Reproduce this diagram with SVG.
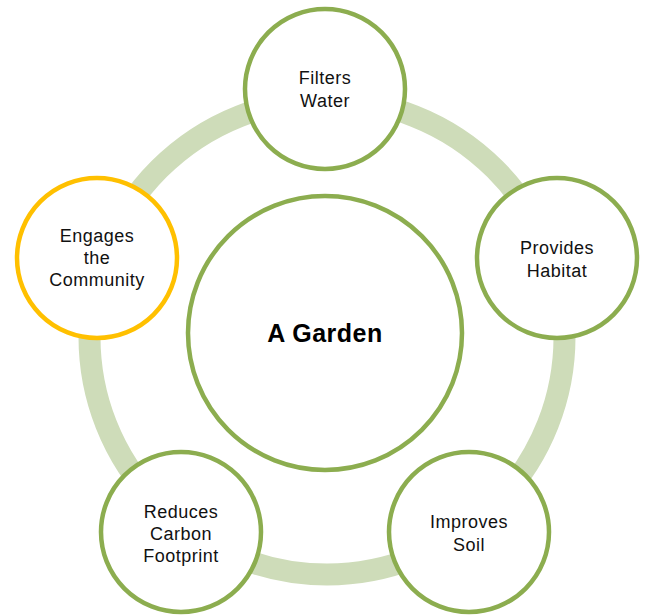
<svg xmlns="http://www.w3.org/2000/svg" width="650" height="616" viewBox="0 0 650 616">
<style>
.ring{fill:none;stroke:#cedcb9;stroke-width:22}
.n{fill:#fff;stroke:#8cad4f;stroke-width:4.5}
.y{fill:#fff;stroke:#ffc000;stroke-width:4.5}
.t{font-family:"Liberation Sans","DejaVu Sans",sans-serif;font-size:18px;letter-spacing:0.5px;fill:#111;text-anchor:middle}
.c{font-family:"Liberation Sans","DejaVu Sans",sans-serif;font-size:25px;letter-spacing:0.5px;font-weight:bold;fill:#000;text-anchor:middle}
</style>
<rect width="650" height="616" fill="#fff"/>
<g id="connectors">
<circle class="ring" cx="327" cy="337" r="237.5"/>
</g>
<g id="center">
<circle class="n" cx="325" cy="333" r="137"/>
<text class="c" x="325" y="342">A Garden</text>
</g>
<g id="filters-water">
<circle class="n" cx="325" cy="89" r="80"/>
<text class="t" x="325" y="84">Filters</text>
<text class="t" x="325" y="107">Water</text>
</g>
<g id="provides-habitat">
<circle class="n" cx="557" cy="258" r="80"/>
<text class="t" x="557" y="254">Provides</text>
<text class="t" x="557" y="277">Habitat</text>
</g>
<g id="improves-soil">
<circle class="n" cx="469" cy="532" r="80"/>
<text class="t" x="469" y="528">Improves</text>
<text class="t" x="469" y="551">Soil</text>
</g>
<g id="reduces-carbon">
<circle class="n" cx="181" cy="532" r="80"/>
<text class="t" x="181" y="518">Reduces</text>
<text class="t" x="181" y="540">Carbon</text>
<text class="t" x="181" y="562">Footprint</text>
</g>
<g id="engages-community">
<circle class="y" cx="97" cy="258" r="80"/>
<text class="t" x="97" y="242">Engages</text>
<text class="t" x="97" y="264">the</text>
<text class="t" x="97" y="286">Community</text>
</g>
</svg>
